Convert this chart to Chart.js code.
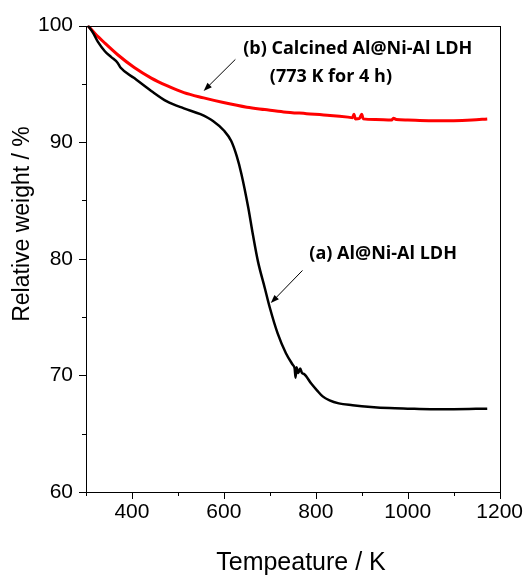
<!DOCTYPE html>
<html>
<head>
<meta charset="utf-8">
<script src="https://cdn.jsdelivr.net/npm/chart.js@4"></script>
<style>
  html, body { margin: 0; padding: 0; background: #fff; }
  #wrap { width: 531px; height: 577px; }
</style>
</head>
<body>
<div id="wrap"><canvas id="tgaChart" width="531" height="577"></canvas></div>
<script>
// (a) Al@Ni-Al LDH
const tempA = [304, 315, 326, 341, 355, 369, 375, 405, 442, 476, 513, 549, 577, 600, 616, 628, 638, 653, 663, 674, 689, 700, 717, 735, 750, 754, 756, 758, 762, 766, 770, 775, 790, 803, 815, 830, 850, 880, 920, 960, 1000, 1050, 1100, 1173];
const weightA = [100, 99.4, 98.6, 97.8, 97.3, 96.8, 96.4, 95.5, 94.4, 93.5, 92.9, 92.4, 91.8, 91.0, 90.1, 88.8, 87.3, 84.4, 82.1, 79.8, 77.5, 75.8, 73.6, 71.9, 70.9, 70.6, 69.8, 70.7, 70.2, 70.6, 70.2, 70.1, 69.3, 68.7, 68.2, 67.85, 67.6, 67.45, 67.3, 67.2, 67.15, 67.1, 67.1, 67.15];

// (b) Calcined Al@Ni-Al LDH (773 K for 4 h)
const tempB = [304, 320, 341, 369, 405, 442, 476, 513, 556, 599, 650, 689, 730, 780, 831, 870, 880, 883, 886, 895, 900, 903, 930, 965, 969, 975, 1000, 1046, 1100, 1140, 1173];
const weightB = [100, 99.3, 98.5, 97.5, 96.4, 95.5, 94.85, 94.25, 93.8, 93.4, 93.0, 92.8, 92.6, 92.45, 92.3, 92.15, 92.1, 92.4, 92.0, 92.05, 92.4, 92.0, 91.95, 91.9, 92.05, 91.95, 91.9, 91.85, 91.85, 91.9, 92.0];

const xTicks = [400, 600, 800, 1000, 1200];
const xMinor = [300, 500, 700, 900, 1100];
const yTicks = [60, 70, 80, 90, 100];
const yMinor = [65, 75, 85, 95];

const labelB = ['(b) Calcined Al@Ni-Al LDH', '(773 K for 4 h)'];
const labelA = '(a) Al@Ni-Al LDH';

function pts(xs, ys) {
    return xs.map((x, i) => ({ x: x, y: ys[i] }));
}

function arrow(ctx, x1, y1, x2, y2) {
    const ang = Math.atan2(y2 - y1, x2 - x1);
    const head = 9;
    ctx.beginPath();
    ctx.moveTo(x1, y1);
    ctx.lineTo(x2 - Math.cos(ang) * head * 0.8, y2 - Math.sin(ang) * head * 0.8);
    ctx.stroke();
    ctx.beginPath();
    ctx.moveTo(x2, y2);
    ctx.lineTo(x2 - head * Math.cos(ang - 0.35), y2 - head * Math.sin(ang - 0.35));
    ctx.lineTo(x2 - head * Math.cos(ang + 0.35), y2 - head * Math.sin(ang + 0.35));
    ctx.closePath();
    ctx.fill();
}

// frame, ticks, arrows, labels and axis titles
const decorations = {
    id: 'decorations',
    afterDraw(chart) {
        const ctx = chart.ctx;
        const xs = chart.scales.x;
        const ys = chart.scales.y;
        const a = chart.chartArea;
        ctx.save();
        ctx.strokeStyle = '#000';
        ctx.fillStyle = '#000';
        ctx.lineWidth = 1;
        ctx.strokeRect(Math.round(a.left) + 0.5, Math.round(a.top) + 0.5, Math.round(a.right - a.left), Math.round(a.bottom - a.top));

        ctx.beginPath();
        xTicks.forEach(v => {
            const p = Math.round(xs.getPixelForValue(v)) + 0.5;
            ctx.moveTo(p, a.bottom); ctx.lineTo(p, a.bottom + 7);
        });
        xMinor.forEach(v => {
            const p = Math.round(xs.getPixelForValue(v)) + 0.5;
            ctx.moveTo(p, a.bottom); ctx.lineTo(p, a.bottom + 4);
        });
        yTicks.forEach(v => {
            const p = Math.round(ys.getPixelForValue(v)) + 0.5;
            ctx.moveTo(a.left, p); ctx.lineTo(a.left - 7, p);
        });
        yMinor.forEach(v => {
            const p = Math.round(ys.getPixelForValue(v)) + 0.5;
            ctx.moveTo(a.left, p); ctx.lineTo(a.left - 4, p);
        });
        ctx.stroke();

        // arrows
        arrow(ctx, xs.getPixelForValue(625), ys.getPixelForValue(97.1), xs.getPixelForValue(556), ys.getPixelForValue(94.4));
        arrow(ctx, xs.getPixelForValue(771), ys.getPixelForValue(79.0), xs.getPixelForValue(702), ys.getPixelForValue(76.2));

        // annotations
        ctx.font = 'bold 18px "Open Sans"';
        ctx.textAlign = 'left';
        ctx.textBaseline = 'middle';
        ctx.fillText(labelB[0], xs.getPixelForValue(642), ys.getPixelForValue(98.0));
        ctx.fillText(labelB[1], xs.getPixelForValue(700), ys.getPixelForValue(95.6));
        ctx.fillText(labelA, xs.getPixelForValue(786), ys.getPixelForValue(80.4));

        // axis titles
        ctx.font = '25px "Liberation Sans"';
        ctx.textAlign = 'center';
        ctx.fillText('Tempeature / K', 301, 563);
        ctx.translate(23, 224);
        ctx.rotate(-Math.PI / 2);
        ctx.font = '23px "Liberation Sans"';
        ctx.fillText('Relative weight / %', 0, 0);
        ctx.restore();
    }
};

const ctx = document.getElementById('tgaChart').getContext('2d');

new Chart(ctx, {
    type: 'line',
    data: {
        datasets: [{
            label: labelA,
            data: pts(tempA, weightA),
            borderColor: '#000000',
            borderWidth: 2.5,
            pointRadius: 0,
            cubicInterpolationMode: 'monotone'
        }, {
            label: labelB.join(' '),
            data: pts(tempB, weightB),
            borderColor: '#ff0000',
            borderWidth: 3,
            pointRadius: 0,
            cubicInterpolationMode: 'monotone'
        }]
    },
    options: {
        responsive: false,
        animation: false,
        layout: { padding: { top: 24, right: 27, left: 0, bottom: 0 } },
        plugins: {
            legend: { display: false },
            tooltip: { enabled: false }
        },
        scales: {
            x: {
                type: 'linear',
                min: 300,
                max: 1200,
                afterBuildTicks: s => { s.ticks = xTicks.map(v => ({ value: v })); },
                afterFit: s => { s.height = 85; },
                grid: { display: false, drawTicks: false },
                border: { display: false },
                ticks: {
                    padding: 8,
                    maxRotation: 0,
                    color: '#000',
                    font: { family: 'Liberation Sans', size: 21 },
                    callback: v => String(v)
                }
            },
            y: {
                type: 'linear',
                min: 60,
                max: 100,
                afterBuildTicks: s => { s.ticks = yTicks.map(v => ({ value: v })); },
                afterFit: s => { s.width = 86; },
                grid: { display: false, drawTicks: false },
                border: { display: false },
                ticks: {
                    padding: 13,
                    color: '#000',
                    font: { family: 'Liberation Sans', size: 21 },
                    callback: v => String(v)
                }
            }
        }
    },
    plugins: [decorations]
});
</script>
</body>
</html>
